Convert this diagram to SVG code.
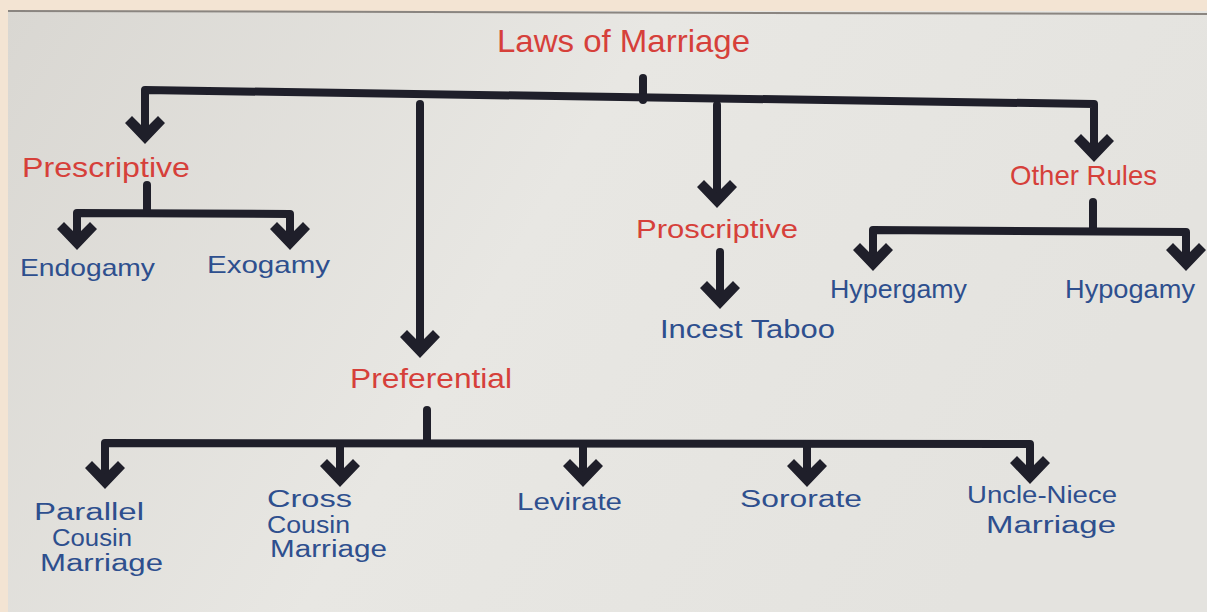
<svg xmlns="http://www.w3.org/2000/svg" width="1207" height="612" viewBox="0 0 1207 612">
<defs>
<linearGradient id="paper" x1="0" y1="0" x2="1" y2="0.3">
<stop offset="0" stop-color="#d9d7d2"/>
<stop offset="0.5" stop-color="#e8e7e3"/>
<stop offset="1" stop-color="#e4e3df"/>
</linearGradient>
<path id="ah" d="M-20,-19 L-13,-26 L0,-13 L13,-26 L20,-19 L0,2 Z"/>
<style>
.ln{fill:none;stroke:#1f1f2a;stroke-width:8;stroke-linecap:round;stroke-linejoin:round}
.hd{fill:#1f1f2a}
.red{fill:#d6403a;font-family:"Liberation Sans",Arial,sans-serif}
.blue{fill:#2e4f8e;font-family:"Liberation Sans",Arial,sans-serif}
</style>
</defs>
<rect x="0" y="0" width="1207" height="612" fill="#f3e4d3"/>
<rect x="8" y="11" width="1199" height="601" fill="url(#paper)"/>
<line x1="8" y1="11" x2="1207" y2="14" stroke="#8a8580" stroke-width="2"/>

<g id="connectors">
<path class="ln" d="M643,78 L643,100"/>
<path class="ln" d="M145,132 L145,90 L1094,104 L1094,150"/>
<path class="ln" d="M420,104 L420,345"/>
<path class="ln" d="M717,105 L717,196"/>
<path class="ln" d="M147,185 L147,212"/>
<path class="ln" d="M77,237 L77,213 L290,214 L290,237"/>
<path class="ln" d="M720,252 L720,297"/>
<path class="ln" d="M1093,202 L1093,229"/>
<path class="ln" d="M873,259 L873,230 L1186,232 L1186,259"/>
<path class="ln" d="M427,410 L427,442"/>
<path class="ln" d="M105,476 L105,443 L1030,444 L1030,472"/>
<path class="ln" d="M340,444 L340,474"/>
<path class="ln" d="M583,444 L583,474"/>
<path class="ln" d="M807,444 L807,474"/>
<use href="#ah" class="hd" transform="translate(145,142)"/>
<use href="#ah" class="hd" transform="translate(1094,160)"/>
<use href="#ah" class="hd" transform="translate(420,356)"/>
<use href="#ah" class="hd" transform="translate(717,206)"/>
<use href="#ah" class="hd" transform="translate(77,248)"/>
<use href="#ah" class="hd" transform="translate(290,248)"/>
<use href="#ah" class="hd" transform="translate(720,307)"/>
<use href="#ah" class="hd" transform="translate(873,269)"/>
<use href="#ah" class="hd" transform="translate(1186,269)"/>
<use href="#ah" class="hd" transform="translate(105,487)"/>
<use href="#ah" class="hd" transform="translate(340,485)"/>
<use href="#ah" class="hd" transform="translate(583,485)"/>
<use href="#ah" class="hd" transform="translate(807,485)"/>
<use href="#ah" class="hd" transform="translate(1030,482)"/>
</g>

<g id="laws"><text class="red" x="497" y="52" font-size="32" textLength="253" lengthAdjust="spacingAndGlyphs">Laws of Marriage</text></g>
<g id="prescriptive"><text class="red" x="22" y="177" font-size="28" textLength="168" lengthAdjust="spacingAndGlyphs">Prescriptive</text></g>
<g id="endogamy"><text class="blue" x="20" y="276" font-size="24" textLength="135" lengthAdjust="spacingAndGlyphs">Endogamy</text></g>
<g id="exogamy"><text class="blue" x="207" y="273" font-size="24" textLength="123" lengthAdjust="spacingAndGlyphs">Exogamy</text></g>
<g id="proscriptive"><text class="red" x="636" y="238" font-size="26" textLength="162" lengthAdjust="spacingAndGlyphs">Proscriptive</text></g>
<g id="incest"><text class="blue" x="660" y="338" font-size="26" textLength="175" lengthAdjust="spacingAndGlyphs">Incest Taboo</text></g>
<g id="other"><text class="red" x="1010" y="185" font-size="28" textLength="147" lengthAdjust="spacingAndGlyphs">Other Rules</text></g>
<g id="hypergamy"><text class="blue" x="830" y="298" font-size="26" textLength="137" lengthAdjust="spacingAndGlyphs">Hypergamy</text></g>
<g id="hypogamy"><text class="blue" x="1065" y="298" font-size="26" textLength="130" lengthAdjust="spacingAndGlyphs">Hypogamy</text></g>
<g id="preferential"><text class="red" x="350" y="388" font-size="27" textLength="162" lengthAdjust="spacingAndGlyphs">Preferential</text></g>
<g id="parallel">
<text class="blue" x="34" y="520" font-size="23" textLength="110" lengthAdjust="spacingAndGlyphs">Parallel</text>
<text class="blue" x="52" y="546" font-size="23" textLength="80" lengthAdjust="spacingAndGlyphs">Cousin</text>
<text class="blue" x="40" y="571" font-size="23" textLength="123" lengthAdjust="spacingAndGlyphs">Marriage</text>
</g>
<g id="cross">
<text class="blue" x="267" y="507" font-size="23" textLength="85" lengthAdjust="spacingAndGlyphs">Cross</text>
<text class="blue" x="267" y="533" font-size="23" textLength="83" lengthAdjust="spacingAndGlyphs">Cousin</text>
<text class="blue" x="270" y="557" font-size="23" textLength="117" lengthAdjust="spacingAndGlyphs">Marriage</text>
</g>
<g id="levirate"><text class="blue" x="517" y="510" font-size="23" textLength="105" lengthAdjust="spacingAndGlyphs">Levirate</text></g>
<g id="sororate"><text class="blue" x="740" y="507" font-size="23" textLength="122" lengthAdjust="spacingAndGlyphs">Sororate</text></g>
<g id="uncle">
<text class="blue" x="967" y="503" font-size="23" textLength="150" lengthAdjust="spacingAndGlyphs">Uncle-Niece</text>
<text class="blue" x="986" y="533" font-size="23" textLength="130" lengthAdjust="spacingAndGlyphs">Marriage</text>
</g>
</svg>
